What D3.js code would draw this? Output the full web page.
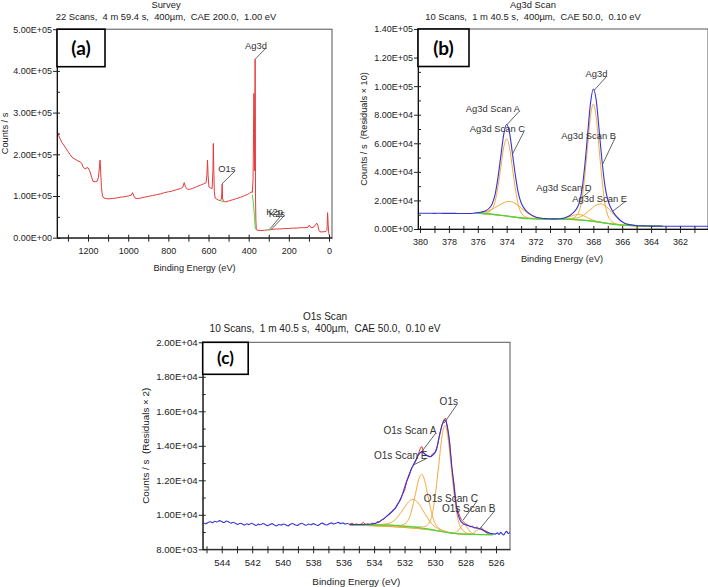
<!DOCTYPE html>
<html>
<head>
<meta charset="utf-8">
<script src="https://cdn.jsdelivr.net/npm/d3@7"></script>
<style>
  body { margin: 0; background: #fff; }
  svg { display: block; font-family: "Liberation Sans", Arial, sans-serif; }
</style>
</head>
<body>
<div id="chart"></div>
<script>
// ---------- (a) survey spectrum: [binding energy eV, counts/s] ----------
const surveyData = [
  [1354, 262000], [1350, 250000], [1340, 238000], [1330, 228000], [1320, 222000],
  [1310, 214000], [1300, 207000], [1290, 200000], [1280, 193000], [1270, 190000],
  [1260, 187000], [1250, 184000], [1240, 182000], [1232, 179000], [1225, 170000],
  [1215, 165000], [1205, 168000], [1198, 167000], [1190, 158000], [1182, 145000],
  [1175, 135000], [1165, 134000], [1155, 135000], [1148, 145000], [1143, 170000],
  [1140, 186000], [1137, 160000], [1133, 120000], [1128, 100000], [1120, 95000],
  [1100, 93000], [1080, 94000], [1060, 95000], [1040, 97000], [1020, 98000],
  [1000, 100000], [985, 102000], [978, 108000], [972, 100000], [965, 95000],
  [955, 93500], [940, 95000], [920, 97000], [900, 99000], [880, 101000],
  [860, 103000], [840, 105000], [820, 108000], [800, 110000], [780, 112000],
  [760, 115000], [740, 118000], [728, 121000], [721, 132000], [715, 122000],
  [705, 116000], [695, 116000], [680, 118000], [660, 122000], [640, 126000],
  [625, 129000], [612, 132000], [608, 150000], [605, 186000], [602, 150000],
  [598, 122000], [590, 119000], [582, 118000], [578, 160000], [576, 226000],
  [574, 170000], [571, 110000], [567, 95000], [560, 93000], [550, 90000],
  [540, 89000], [535, 95000], [532, 129000], [530, 95000], [526, 87000],
  [515, 86000], [500, 88000], [480, 91000], [460, 94000], [440, 97000],
  [420, 101000], [405, 104000], [395, 107000], [388, 110000], [382, 108000],
  [378, 140000], [376, 250000], [374, 346000], [372, 300000], [371, 200000],
  [370, 160000], [369, 300000], [368, 428000], [367, 320000], [366, 100000],
  [364, 40000], [362, 22000], [358, 18000], [340, 17000], [320, 18000],
  [300, 19000], [280, 20000], [260, 21000], [240, 21000], [220, 22000],
  [200, 22000], [180, 23000], [160, 23000], [140, 24000], [120, 24000],
  [105, 25000], [98, 30000], [94, 26000], [85, 24000], [75, 26000],
  [66, 32000], [61, 35000], [56, 30000], [50, 18000], [45, 14000],
  [30, 14000], [15, 15000], [10, 18000], [7, 60000], [4, 30000],
  [1, 10000], [-3, 3000], [-6, 500]
];
const surveyBgO1s = [[541, 89000], [530, 86500], [522, 86000]];
const surveyBgAg = [[382, 103000], [376, 80000], [371, 50000], [367, 21000], [362, 19000]];
const surveyBgK = [[304, 19500], [296, 19000], [288, 20000]];

const surveyXTicks = [1300, 1200, 1100, 1000, 900, 800, 700, 600, 500, 400, 300, 200, 100, 0];
const surveyXLabels = [1200, 1000, 800, 600, 400, 200, 0];
const surveyYTicks = [0, 100000, 200000, 300000, 400000, 500000];
const surveyYMinor = [50000, 150000, 250000, 350000, 450000];

// ---------- (b) Ag3d high resolution ----------
const agEnvelope = [
  [380.14, 11050], [379.8, 10980], [379.4, 11020], [379.0, 10950], [378.6, 11000],
  [378.2, 10930], [377.8, 10960], [377.4, 10900], [377.0, 10870], [376.6, 10900],
  [376.3, 11050], [376.0, 11470], [375.8, 11740], [375.6, 12170], [375.4, 13030],
  [375.2, 14690], [375.0, 17700], [374.8, 24210], [374.6, 36130], [374.4, 51390],
  [374.2, 66440], [374.0, 73130], [373.8, 67340], [373.6, 52810], [373.4, 37740],
  [373.2, 25480], [373.0, 18410], [372.8, 14640], [372.6, 12200], [372.4, 10560],
  [372.2, 9260], [372.0, 8410], [371.8, 7840], [371.6, 7500], [371.4, 7320],
  [371.2, 7170], [371.0, 7140], [370.8, 7090], [370.6, 7090], [370.4, 7170],
  [370.2, 7400], [370.0, 7760], [369.8, 8600], [369.6, 9670], [369.4, 11230],
  [369.2, 13610], [369.0, 17630], [368.8, 26520], [368.6, 43600], [368.4, 65610],
  [368.2, 87760], [368.0, 98000], [367.8, 90170], [367.6, 69390], [367.4, 47940],
  [367.2, 30550], [367.0, 20470], [366.8, 15050], [366.6, 11440], [366.4, 8790],
  [366.2, 6660], [366.0, 5040], [365.8, 3900], [365.6, 3260], [365.4, 2870],
  [365.2, 2630], [365.0, 2400], [364.6, 2200], [364.2, 2080], [363.8, 2010],
  [363.2, 1960], [362.6, 1930], [362.0, 1920], [361.4, 1900], [360.8, 1910],
  [360.06, 1900]
];
const agBackground = [
  [376.0, 11000], [375.6, 10800], [375.2, 10550], [374.8, 10100], [374.4, 9600],
  [374.0, 9100], [373.6, 8500], [373.2, 7900], [372.8, 7450], [372.4, 7200],
  [372.0, 7050], [371.0, 6920], [370.0, 6800], [369.6, 6700], [369.2, 6520],
  [368.8, 6250], [368.4, 5880], [368.0, 5400], [367.6, 4800], [367.2, 4200],
  [366.8, 3600], [366.4, 3100], [366.0, 2750], [365.6, 2480], [365.2, 2300],
  [364.8, 2170], [364.4, 2080], [364.0, 2010], [363.6, 1970], [363.2, 1950]
];
const agScanA = [
  [376.0, 11050], [375.6, 11120], [375.4, 11400], [375.2, 12170], [375.0, 14130],
  [374.8, 19280], [374.6, 29830], [374.4, 43620], [374.2, 57410], [374.0, 63100],
  [373.8, 56860], [373.6, 42520], [373.4, 28180], [373.2, 17080], [373.0, 11430],
  [372.8, 9070], [372.6, 8000], [372.4, 7520], [372.2, 7260], [372.0, 7100],
  [371.0, 6920], [370.0, 6800], [369.0, 6400], [368.0, 5400], [367.0, 3900],
  [366.0, 2750], [365.0, 2230], [364.0, 2010], [363.2, 1950]
];
const agScanC = [
  [376.0, 11420], [375.75, 11605], [375.55, 11940], [375.35, 12470], [375.15, 13230],
  [374.95, 14190], [374.75, 15290], [374.55, 16410], [374.35, 17630], [374.15, 18640],
  [373.95, 19230], [373.75, 19220], [373.55, 18610], [373.35, 17480], [373.15, 15930],
  [372.95, 14220], [372.75, 12670], [372.55, 11170], [372.35, 9900], [372.15, 8880],
  [371.95, 8200], [371.75, 7730], [371.35, 7270], [370.95, 7050], [370.55, 6940],
  [370.0, 6820], [369.0, 6400], [368.0, 5400], [367.0, 3900], [366.0, 2750],
  [365.0, 2230], [364.0, 2010], [363.2, 1950]
];
const agScanB = [
  [376.0, 11100], [375.0, 10350], [374.0, 9100], [373.0, 7850], [372.0, 7380],
  [371.0, 6920], [370.0, 6880], [369.8, 7010], [369.6, 7190], [369.4, 7690],
  [369.2, 8980], [369.0, 12140], [368.8, 20190], [368.6, 36420], [368.4, 57540],
  [368.2, 78630], [368.0, 87400], [367.8, 78080], [367.6, 56460], [367.4, 34840],
  [367.2, 18140], [367.0, 9640], [366.8, 6060], [366.6, 4420], [366.4, 3590],
  [366.2, 3150], [366.0, 2830], [365.0, 2230], [364.0, 2010], [363.2, 1950]
];
const agScanE = [
  [376.0, 11040], [374.0, 9100], [372.85, 7580], [371.05, 7160], [370.69, 6930],
  [370.33, 6930], [369.97, 6965], [369.61, 7090], [369.25, 7455], [369.07, 7875],
  [368.89, 8530], [368.71, 9550], [368.53, 10820], [368.35, 12325], [368.17, 13800],
  [367.81, 16685], [367.45, 17575], [367.09, 15605], [366.73, 11700], [366.55, 9790],
  [366.37, 7890], [366.19, 6270], [366.01, 4970], [365.83, 4050], [365.65, 3420],
  [365.29, 2730], [364.93, 2380], [364.57, 2190], [364.21, 2080], [363.2, 1950]
];
const agScanD = [
  [376.0, 11010], [374.0, 9100], [372.9, 7577], [371.6, 7048], [370.82, 6950],
  [370.56, 6985], [370.3, 7120], [370.04, 7460], [369.91, 7775], [369.78, 8165],
  [369.52, 9060], [369.26, 9930], [369.0, 10200], [368.74, 9580], [368.48, 8350],
  [368.22, 7085], [368.09, 6520], [367.96, 5990], [367.7, 5220], [367.44, 4670],
  [367.18, 4220], [366.66, 3430], [366.0, 2750], [365.0, 2230], [364.0, 2010],
  [363.2, 1950]
];
const agXTicks = [380, 379, 378, 377, 376, 375, 374, 373, 372, 371, 370, 369, 368, 367, 366, 365, 364, 363, 362, 361];
const agXLabels = [380, 378, 376, 374, 372, 370, 368, 366, 364, 362];
const agYTicks = [0, 20000, 40000, 60000, 80000, 100000, 120000, 140000];
const agYMinor = [10000, 30000, 50000, 70000, 90000, 110000, 130000];

// ---------- (c) O1s high resolution ----------
const o1sEnvelope = [
  [545.2, 9520], [545.05, 9480], [544.9, 9560], [544.75, 9600], [544.6, 9540],
  [544.45, 9630], [544.3, 9580], [544.15, 9660], [544.0, 9610], [543.85, 9550],
  [543.7, 9640], [543.55, 9590], [543.4, 9520], [543.25, 9570], [543.1, 9500],
  [542.95, 9440], [542.8, 9510], [542.65, 9470], [542.5, 9400], [542.35, 9480],
  [542.2, 9430], [542.05, 9510], [541.9, 9450], [541.75, 9380], [541.6, 9460],
  [541.45, 9420], [541.3, 9500], [541.15, 9440], [541.0, 9370], [540.85, 9430],
  [540.7, 9490], [540.55, 9410], [540.4, 9350], [540.25, 9440], [540.1, 9400],
  [539.95, 9470], [539.8, 9420], [539.65, 9360], [539.5, 9450], [539.35, 9500],
  [539.2, 9420], [539.05, 9380], [538.9, 9460], [538.75, 9510], [538.6, 9440],
  [538.45, 9390], [538.3, 9470], [538.15, 9420], [538.0, 9490], [537.85, 9440],
  [537.7, 9380], [537.55, 9460], [537.4, 9520], [537.25, 9450], [537.1, 9410],
  [536.95, 9480], [536.8, 9530], [536.65, 9470], [536.5, 9510], [536.35, 9560],
  [536.2, 9490], [536.05, 9530], [535.9, 9470], [535.75, 9500], [535.6, 9450],
  [535.4, 9440], [535.0, 9440], [534.6, 9450], [534.2, 9470], [533.8, 9540],
  [533.4, 9750], [533.0, 10050], [532.6, 10400], [532.2, 11050], [531.9, 11850],
  [531.6, 12550], [531.3, 13100], [531.1, 13450], [530.9, 13650], [530.7, 13550],
  [530.5, 13420], [530.3, 13370], [530.1, 13500], [529.9, 13800], [529.7, 14650],
  [529.5, 15300], [529.35, 15500], [529.2, 15150], [529.05, 14200], [528.9, 12800],
  [528.8, 12000], [528.65, 10800], [528.5, 10050], [528.35, 9680], [528.2, 9520],
  [528.0, 9420], [527.8, 9360], [527.5, 9280], [527.2, 9220], [527.0, 9180],
  [526.8, 9080], [526.6, 8980], [526.4, 8930], [526.2, 8900], [526.05, 8880],
  [525.9, 8950], [525.8, 8860], [525.7, 8980], [525.6, 8900], [525.5, 8830],
  [525.4, 8960], [525.3, 9040], [525.2, 8920], [525.1, 8990]
];
const o1sRaw = [
  [535.6, 9450], [535.45, 9520], [535.3, 9420], [535.15, 9480], [535.0, 9400],
  [534.85, 9470], [534.7, 9560], [534.55, 9430], [534.4, 9480], [534.25, 9400],
  [534.1, 9520], [533.95, 9470], [533.8, 9610], [533.65, 9560], [533.5, 9720],
  [533.35, 9760], [533.2, 9900], [533.05, 9980], [532.9, 10100], [532.75, 10300],
  [532.6, 10360], [532.45, 10650], [532.3, 10800], [532.15, 11150], [532.0, 11400],
  [531.85, 11950], [531.7, 12250], [531.55, 12700], [531.4, 12900], [531.25, 13150],
  [531.1, 13500], [530.95, 13900], [530.85, 13950], [530.75, 13600], [530.6, 13450],
  [530.45, 13400], [530.3, 13350], [530.15, 13550], [530.0, 13600], [529.85, 14000],
  [529.7, 14600], [529.55, 15200], [529.4, 15550], [529.3, 15600], [529.2, 15100],
  [529.05, 14300], [528.9, 12700], [528.75, 11800], [528.6, 10500], [528.45, 10100],
  [528.3, 9750], [528.15, 9600], [528.0, 9480], [527.85, 9420], [527.7, 9300],
  [527.55, 9350], [527.4, 9220], [527.25, 9300], [527.1, 9180], [526.95, 9250],
  [526.8, 9100], [526.65, 9050], [526.5, 8980], [526.35, 8900], [526.2, 8850]
];
const o1sBackground = [
  [535.6, 9410], [535.0, 9420], [534.0, 9420], [533.0, 9400], [532.5, 9370],
  [532.0, 9340], [531.5, 9300], [531.0, 9250], [530.5, 9180], [530.0, 9100],
  [529.5, 9020], [529.0, 8950], [528.5, 8900], [528.0, 8870], [527.5, 8860],
  [527.0, 8855], [526.5, 8850], [526.2, 8850]
];
const o1sMain = [
  [535.6, 9410], [533.0, 9400], [531.5, 9300], [530.75, 9300], [530.55, 9375],
  [530.35, 9590], [530.25, 9825], [530.15, 10175], [530.05, 10710], [529.95, 11375],
  [529.85, 12155], [529.75, 12935], [529.65, 13790], [529.55, 14505], [529.45, 14995],
  [529.35, 15170], [529.25, 14975], [529.15, 14460], [529.05, 13715], [528.95, 12830],
  [528.85, 12020], [528.75, 11215], [528.65, 10525], [528.55, 9965], [528.45, 9585],
  [528.35, 9330], [528.15, 9075], [527.95, 8950], [527.5, 8860], [526.2, 8850]
];
const o1sScanE = [
  [535.6, 9410], [533.0, 9400], [532.28, 9390], [532.08, 9435], [531.88, 9545],
  [531.78, 9660], [531.68, 9845], [531.58, 10115], [531.48, 10450], [531.38, 10840],
  [531.28, 11230], [531.18, 11660], [531.08, 12025], [530.98, 12265], [530.88, 12345],
  [530.78, 12245], [530.68, 11980], [530.58, 11600], [530.48, 11145], [530.38, 10730],
  [530.28, 10320], [530.18, 9960], [530.08, 9665], [529.98, 9460], [529.88, 9325],
  [529.68, 9170], [529.48, 9080], [529.0, 8950], [528.0, 8870], [526.2, 8850]
];
const o1sScanA = [
  [535.6, 9410], [534.2, 9420], [533.67, 9430], [533.35, 9455], [533.03, 9510],
  [532.87, 9565], [532.71, 9650], [532.55, 9780], [532.39, 9945], [532.23, 10145],
  [532.07, 10345], [531.91, 10555], [531.75, 10740], [531.59, 10855], [531.43, 10895],
  [531.27, 10830], [531.11, 10690], [530.95, 10485], [530.79, 10245], [530.63, 10015],
  [530.47, 9785], [530.31, 9585], [530.15, 9420], [529.99, 9295], [529.83, 9210],
  [529.51, 9090], [529.19, 9005], [528.5, 8900], [527.5, 8860], [526.2, 8850]
];
const o1sScanC = [
  [535.6, 9410], [530.0, 9100], [529.0, 8950], [528.82, 8940], [528.7, 8965],
  [528.58, 9012], [528.46, 9116], [528.4, 9185], [528.34, 9254], [528.22, 9392],
  [528.1, 9450], [527.98, 9379], [527.86, 9227], [527.8, 9151], [527.74, 9076],
  [527.62, 8959], [527.5, 8900], [527.38, 8875], [527.0, 8855], [526.2, 8850]
];
const o1sScanB = [
  [535.6, 9410], [530.0, 9100], [528.5, 8900], [527.75, 8878], [527.6, 8892],
  [527.49, 8935], [527.38, 9018], [527.27, 9095], [527.16, 9141], [527.05, 9155],
  [526.94, 9139], [526.83, 9091], [526.72, 9012], [526.61, 8926], [526.5, 8880],
  [526.35, 8862], [526.2, 8850]
];
const o1sXTicks = [545, 544, 543, 542, 541, 540, 539, 538, 537, 536, 535, 534, 533, 532, 531, 530, 529, 528, 527, 526];
const o1sXLabels = [544, 542, 540, 538, 536, 534, 532, 530, 528, 526];
const o1sYTicks = [8000, 10000, 12000, 14000, 16000, 18000, 20000];
const o1sYMinor = [9000, 11000, 13000, 15000, 17000, 19000];

// ---------- drawing ----------
const RED = "#e53a3a", BLUE = "#3434d6", ORANGE = "#f4a83c", GREEN = "#3fdc3f";
const svg = d3.select("#chart").append("svg").attr("width", 708).attr("height", 587);
svg.append("rect").attr("width", 708).attr("height", 587).attr("fill", "#fff");

const sciFormat = (v) =>
  v.toExponential(2).toUpperCase().replace(/E([+-])(\d)$/, "E$10$2");

let clipCount = 0;
function drawPanel(p) {
  const g = svg.append("g");
  const k = p.fontScale || 1;
  const x = d3.scaleLinear().domain(p.xDomain).range(p.xRange);
  const y = d3.scaleLinear().domain(p.yDomain).range(p.yRange);
  const left = p.xRange[0], right = p.xRange[1];
  const top = p.yRange[1], bottom = p.yRange[0];

  // titles
  g.append("text").attr("x", p.titleX).attr("y", p.titleY)
    .attr("text-anchor", "middle").attr("font-size", 9.4 * k).attr("fill", "#222")
    .text(p.title);
  g.append("text").attr("x", p.titleX).attr("y", p.titleY + 11.5 * k)
    .attr("text-anchor", "middle").attr("font-size", 9.4 * k).attr("fill", "#222")
    .attr("xml:space", "preserve").style("white-space", "pre")
    .text(p.subtitle);

  // frame
  g.append("rect").attr("x", left).attr("y", top)
    .attr("width", right - left).attr("height", bottom - top)
    .attr("fill", "none").attr("stroke", "#555").attr("stroke-width", 1);

  // curves
  const id = "clip" + clipCount++;
  g.append("clipPath").attr("id", id).append("rect")
    .attr("x", left).attr("y", top - 2).attr("width", right - left).attr("height", bottom - top + 2);
  const plot = g.append("g").attr("clip-path", `url(#${id})`);
  p.series.forEach((s) => {
    const line = d3.line()
      .x((d) => x(d[0]))
      .y((d) => y(d[1]))
      .curve(s.smooth ? d3.curveMonotoneX : d3.curveLinear);
    plot.append("path").datum(s.data)
      .attr("d", line).attr("fill", "none")
      .attr("stroke", s.color).attr("stroke-width", s.width || 1)
      .attr("stroke-linejoin", "round");
  });

  // y axis
  const yAxis = g.append("g").attr("transform", `translate(${left},0)`)
    .call(d3.axisLeft(y).tickValues(p.yTicks).tickFormat(sciFormat)
      .tickSize(4).tickSizeOuter(0).tickPadding(1));
  yAxis.selectAll(".tick line").attr("x1", 3).attr("stroke", "#222");
  yAxis.select(".domain").attr("stroke", "#111");
  yAxis.selectAll("text").attr("font-size", 9 * k).attr("fill", "#222")
    .attr("font-family", "Liberation Sans, Arial, sans-serif");
  const yMinor = g.append("g").attr("transform", `translate(${left},0)`)
    .call(d3.axisLeft(y).tickValues(p.yMinor).tickFormat("").tickSize(-3).tickSizeOuter(0));
  yMinor.select(".domain").remove();
  yMinor.selectAll(".tick line").attr("stroke", "#222");

  // x axis
  const xAxis = g.append("g").attr("transform", `translate(0,${bottom})`)
    .call(d3.axisBottom(x).tickValues(p.xTicks)
      .tickFormat((v) => (p.xLabels.includes(v) ? v : ""))
      .tickSize(4).tickSizeOuter(0).tickPadding(6));
  xAxis.selectAll(".tick line").attr("y1", -3).attr("stroke", "#222");
  xAxis.select(".domain").attr("stroke", "#111");
  xAxis.selectAll("text").attr("font-size", 9 * k).attr("fill", "#222")
    .attr("font-family", "Liberation Sans, Arial, sans-serif");

  // axis titles
  g.append("text").attr("x", (left + p.xTitleRight) / 2).attr("y", bottom + 33 * k)
    .attr("text-anchor", "middle").attr("font-size", 9.2 * k).attr("fill", "#222")
    .text("Binding Energy (eV)");
  g.append("text")
    .attr("transform", `translate(${p.yTitleX},${(top + bottom) / 2}) rotate(-90)`)
    .attr("text-anchor", "middle").attr("font-size", 9.2 * k).attr("fill", "#222")
    .attr("xml:space", "preserve").style("white-space", "pre")
    .text(p.yTitle);

  // peak annotations with leader lines
  p.notes.forEach((n) => {
    g.append("line")
      .attr("x1", n.tx - 1).attr("y1", n.ty - 0.5)
      .attr("x2", x(n.at[0])).attr("y2", y(n.at[1]))
      .attr("stroke", "#555").attr("stroke-width", 0.9);
    g.append("text").attr("x", n.tx).attr("y", n.ty)
      .attr("text-anchor", "end").attr("font-size", 9.4 * k).attr("fill", "#333")
      .text(n.text);
  });

  // panel letter box
  g.append("rect").attr("x", left).attr("y", top)
    .attr("width", p.box[0]).attr("height", p.box[1])
    .attr("fill", "#fff").attr("stroke", "#000").attr("stroke-width", 1.6);
  g.append("text").attr("x", left + p.box[0] / 2).attr("y", top + p.box[1] / 2 + p.letterSize * 0.36)
    .attr("text-anchor", "middle").attr("font-size", p.letterSize)
    .attr("font-weight", "bold").attr("font-family", "Lato, 'Open Sans', sans-serif")
    .attr("fill", "#000").text(p.letter);
}

drawPanel({
  title: "Survey",
  subtitle: "22 Scans,  4 m 59.4 s,  400µm,  CAE 200.0,  1.00 eV",
  titleX: 166, titleY: 8,
  xDomain: [1354.4, -14.9], xRange: [57, 332],
  yDomain: [0, 500000], yRange: [237.7, 29.2],
  xTicks: surveyXTicks, xLabels: surveyXLabels,
  yTicks: surveyYTicks, yMinor: surveyYMinor,
  xTitleRight: 332,
  yTitle: "Counts / s", yTitleX: 8,
  box: [48, 37.5], letter: "(a)", letterSize: 19,
  series: [
    { data: surveyData, color: RED, width: 1 },
    { data: surveyBgO1s, color: GREEN, width: 1 },
    { data: surveyBgAg, color: GREEN, width: 1 },
    { data: surveyBgK, color: GREEN, width: 1.2 }
  ],
  notes: [
    { text: "Ag3d", tx: 267, ty: 48.5, at: [368, 428000] },
    { text: "O1s", tx: 235.5, ty: 172, at: [533, 129000] },
    { text: "K2p", tx: 283, ty: 215, at: [294, 21000] },
    { text: "K2s", tx: 285, ty: 216.5, at: [286, 20500] }
  ]
});

drawPanel({
  title: "Ag3d Scan",
  subtitle: "10 Scans,  1 m 40.5 s,  400µm,  CAE 50.0,  0.10 eV",
  titleX: 533, titleY: 8,
  xDomain: [380.14, 360.06], xRange: [418, 708],
  yDomain: [0, 140000], yRange: [229, 29],
  xTicks: agXTicks, xLabels: agXLabels,
  yTicks: agYTicks, yMinor: agYMinor,
  xTitleRight: 706,
  yTitle: "Counts / s  (Residuals × 10)", yTitleX: 367,
  box: [51, 37.5], letter: "(b)", letterSize: 19,
  series: [
    { data: agScanA, color: ORANGE, smooth: true },
    { data: agScanC, color: ORANGE, smooth: true },
    { data: agScanB, color: ORANGE, smooth: true },
    { data: agScanE, color: ORANGE, smooth: true },
    { data: agScanD, color: ORANGE, smooth: true },
    { data: agBackground, color: GREEN, smooth: true, width: 1.2 },
    { data: agEnvelope, color: BLUE, smooth: true, width: 1.1 }
  ],
  notes: [
    { text: "Ag3d Scan A", tx: 520, ty: 112, at: [373.98, 73000] },
    { text: "Ag3d Scan C", tx: 525, ty: 132, at: [373.62, 52000] },
    { text: "Ag3d", tx: 607.5, ty: 77, at: [367.95, 97000] },
    { text: "Ag3d Scan B", tx: 616, ty: 138.5, at: [367.37, 45000] },
    { text: "Ag3d Scan D", tx: 591.5, ty: 191, at: [368.92, 21000] },
    { text: "Ag3d Scan E", tx: 627, ty: 201.5, at: [366.65, 12500] }
  ]
});

drawPanel({
  title: "O1s Scan",
  subtitle: "10 Scans,  1 m 40.5 s,  400µm,  CAE 50.0,  0.10 eV",
  titleX: 325, titleY: 320,
  fontScale: 1.07,
  xDomain: [545.25, 525.08], xRange: [202.7, 510],
  yDomain: [8000, 20000], yRange: [549.3, 342.3],
  xTicks: o1sXTicks, xLabels: o1sXLabels,
  yTicks: o1sYTicks, yMinor: o1sYMinor,
  xTitleRight: 510,
  yTitle: "Counts / s  (Residuals × 2)", yTitleX: 149,
  box: [45.5, 32], letter: "(c)", letterSize: 17,
  series: [
    { data: o1sRaw, color: RED, width: 1 },
    { data: o1sMain, color: ORANGE, smooth: true },
    { data: o1sScanE, color: ORANGE, smooth: true },
    { data: o1sScanA, color: ORANGE, smooth: true },
    { data: o1sScanC, color: ORANGE, smooth: true },
    { data: o1sScanB, color: ORANGE, smooth: true },
    { data: o1sBackground, color: GREEN, smooth: true, width: 1.2 },
    { data: o1sEnvelope, color: BLUE, smooth: true, width: 1.1 }
  ],
  notes: [
    { text: "O1s", tx: 458, ty: 405, at: [529.42, 15300] },
    { text: "O1s Scan A", tx: 436.5, ty: 434, at: [530.88, 13650] },
    { text: "O1s Scan E", tx: 427.5, ty: 459, at: [531.4, 12900] },
    { text: "O1s Scan C", tx: 478, ty: 501.5, at: [528.15, 9700] },
    { text: "O1s Scan B", tx: 495.5, ty: 511.5, at: [527.05, 9200] }
  ]
});
</script>
</body>
</html>
